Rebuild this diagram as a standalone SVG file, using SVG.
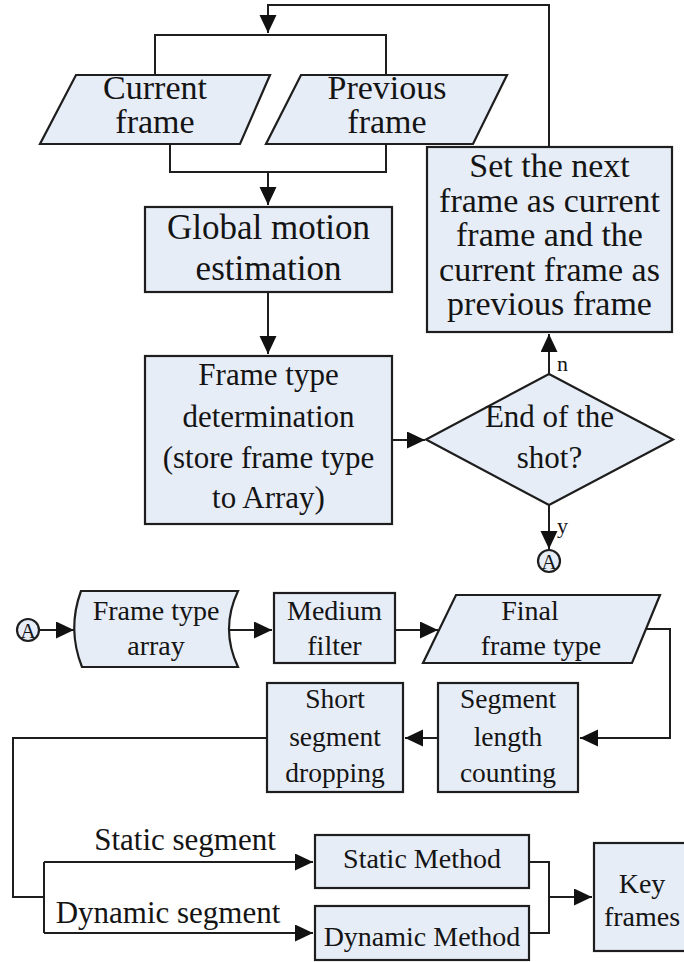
<svg xmlns="http://www.w3.org/2000/svg" width="684" height="962" viewBox="0 0 684 962">
  <defs>
    <marker id="arrow" markerUnits="userSpaceOnUse" markerWidth="19" markerHeight="18" refX="18" refY="8.5" orient="auto">
      <path d="M0,0 L18,8.5 L0,17 Z" fill="#111"/>
    </marker>
    <style>
      .shape { fill: #E7EDF7; stroke: #1e1e1e; stroke-width: 2.2; }
      .wire { fill: none; stroke: #1e1e1e; stroke-width: 2; }
      .arrow { fill: none; stroke: #1e1e1e; stroke-width: 2; marker-end: url(#arrow); }
      text { font-family: "Liberation Serif", "Times New Roman", serif; fill: #141414; text-anchor: middle; }
      .t35 { font-size: 35px; }
      .t34 { font-size: 34px; }
      .t31 { font-size: 31px; }
      .t28 { font-size: 28px; }
      .t27 { font-size: 27.5px; }
      .lbl { font-size: 22px; text-anchor: start; }
    </style>
  </defs>

  <rect width="684" height="962" fill="#ffffff"/>

  <!-- connectors -->
  <g id="connectors">
    <!-- feedback loop back to the frame inputs -->
    <path class="arrow" d="M549,147 V5 H268 V33"/>
    <path class="wire" d="M155,75 V35 H386 V75"/>
    <!-- both frames into motion estimation -->
    <path class="wire" d="M170,144 V172 H386 V144"/>
    <path class="arrow" d="M268,172 V205"/>
    <path class="arrow" d="M268,292 V354"/>
    <path class="arrow" d="M392,440 H425"/>
    <path class="arrow" d="M549,374 V334"/>
    <path class="arrow" d="M549,505 V549"/>
    <!-- second stage -->
    <path class="arrow" d="M39,630 H74"/>
    <path class="arrow" d="M229,630 H272"/>
    <path class="arrow" d="M395,630 H438"/>
    <path class="arrow" d="M646,629 H670 V738 H580"/>
    <path class="arrow" d="M438,738 H405"/>
    <path class="wire" d="M267,738 H13 V897 H44"/>
    <path class="wire" d="M44,862 V933"/>
    <path class="arrow" d="M44,862 H313"/>
    <path class="arrow" d="M44,933 H313"/>
    <path class="wire" d="M529,862 H549 V933 H529"/>
    <path class="arrow" d="M549,897 H592"/>
  </g>

  <!-- branch labels -->
  <text class="lbl" x="557" y="371">n</text>
  <text class="lbl" x="557" y="533">y</text>
  <text class="t31" x="185" y="850">Static segment</text>
  <text class="t31" x="168" y="923">Dynamic segment</text>

  <g id="current-frame">
    <polygon class="shape" points="76,75 270,75 240,144 40,144"/>
    <text class="t34" x="155" y="99">Current</text>
    <text class="t34" x="155" y="133">frame</text>
  </g>

  <g id="previous-frame">
    <polygon class="shape" points="301,75 507,75 473,144 266,144"/>
    <text class="t34" x="387" y="99">Previous</text>
    <text class="t34" x="387" y="133">frame</text>
  </g>

  <g id="set-next-frame">
    <rect class="shape" x="427" y="147" width="245" height="185"/>
    <text class="t34" x="549.5" y="177">Set the next</text>
    <text class="t34" x="549.5" y="211.5">frame as current</text>
    <text class="t34" x="549.5" y="246">frame and the</text>
    <text class="t34" x="549.5" y="280.5">current frame as</text>
    <text class="t34" x="549.5" y="315">previous frame</text>
  </g>

  <g id="global-motion">
    <rect class="shape" x="145" y="207" width="247" height="85"/>
    <text class="t35" x="268.5" y="239">Global motion</text>
    <text class="t35" x="268.5" y="280">estimation</text>
  </g>

  <g id="frame-type-determination">
    <rect class="shape" x="145" y="356" width="247" height="168"/>
    <text class="t31" x="268.5" y="385">Frame type</text>
    <text class="t31" x="268.5" y="427">determination</text>
    <text class="t31" x="268.5" y="468">(store frame type</text>
    <text class="t31" x="268.5" y="508">to Array)</text>
  </g>

  <g id="end-of-shot">
    <polygon class="shape" points="549,374 673,439.5 549,505 426,439.5"/>
    <text class="t31" x="549.5" y="427">End of the</text>
    <text class="t31" x="549.5" y="468">shot?</text>
  </g>

  <g id="connector-a-out">
    <circle class="shape" cx="549" cy="561" r="11" stroke-width="1.6"/>
    <text x="549" y="569" style="font-size:21px">A</text>
  </g>

  <g id="connector-a-in">
    <circle class="shape" cx="28" cy="630" r="11" stroke-width="1.6"/>
    <text x="28" y="638" style="font-size:21px">A</text>
  </g>

  <g id="frame-type-array">
    <path class="shape" d="M81,591 L238,591 Q220,629 238,667 L82,667 Q67,629 81,591 Z"/>
    <text class="t28" x="156" y="620">Frame type</text>
    <text class="t28" x="156" y="655">array</text>
  </g>

  <g id="medium-filter">
    <rect class="shape" x="274" y="593" width="121" height="70"/>
    <text class="t28" x="334.5" y="620">Medium</text>
    <text class="t28" x="334.5" y="655">filter</text>
  </g>

  <g id="final-frame-type">
    <polygon class="shape" points="456,595 660,595 632,663 423,663"/>
    <text class="t28" x="530" y="620">Final</text>
    <text class="t28" x="541" y="655">frame type</text>
  </g>

  <g id="segment-length-counting">
    <rect class="shape" x="438" y="683" width="140" height="109"/>
    <text class="t27" x="508" y="708">Segment</text>
    <text class="t27" x="508" y="746">length</text>
    <text class="t27" x="508" y="782">counting</text>
  </g>

  <g id="short-segment-dropping">
    <rect class="shape" x="267" y="683" width="136" height="109"/>
    <text class="t27" x="335" y="708">Short</text>
    <text class="t27" x="335" y="746">segment</text>
    <text class="t27" x="335" y="782">dropping</text>
  </g>

  <g id="static-method">
    <rect class="shape" x="315" y="835" width="214" height="53"/>
    <text class="t28" x="422" y="868">Static Method</text>
  </g>

  <g id="dynamic-method">
    <rect class="shape" x="315" y="906" width="214" height="54"/>
    <text class="t28" x="422" y="946">Dynamic Method</text>
  </g>

  <g id="key-frames">
    <rect class="shape" x="594" y="843" width="100" height="108"/>
    <text class="t28" x="642" y="893">Key</text>
    <text class="t28" x="642" y="926">frames</text>
  </g>
</svg>
